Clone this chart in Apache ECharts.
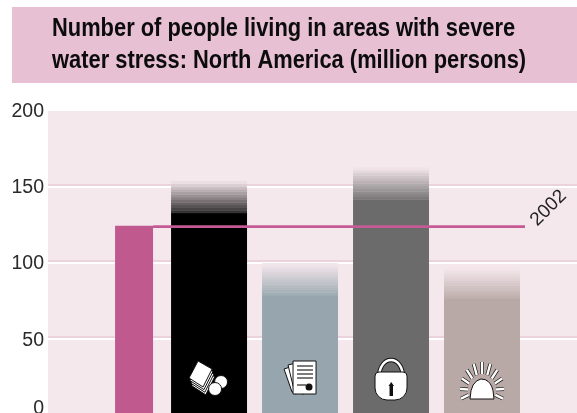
<!DOCTYPE html>
<html><head><meta charset="utf-8">
<style>html,body{margin:0;padding:0;background:#fff;overflow:hidden}#c{width:577px;height:413px}</style>
<script src="https://cdn.jsdelivr.net/npm/echarts@6/dist/echarts.min.js"></script>
</head><body><div id="c"></div>
<script>
const titleLines = ['Number of people living in areas with severe', 'water stress: North America (million persons)'];
const tickValues = [0, 50, 100, 150, 200];
const scenarios = ['2002', 'Markets First', 'Policy First', 'Security First', 'Sustainability First'];
const lowValues = [124.5, 133, 79, 142, 77];
const highValues = [124.5, 154, 100, 163, 97];
const barColors = ['#c05a8e', '#000000', '#97a6ae', '#6b6b6b', '#b8a9a6'];
const baselineLabel = '2002';
const baselineValue = 124;

const PLOT_BG = [245, 232, 237];
const STEPS = 12;
function hexRgb(h){return [1,3,5].map(i=>parseInt(h.substr(i,2),16));}
function mix(h,t){const c=hexRgb(h);return 'rgb('+c.map((v,i)=>Math.round(v+(PLOT_BG[i]-v)*t)).join(',')+')';}
function barSpan(api,i){
  const band=api.size([1,0])[0], cx=api.coord([i,0])[0];
  if(i===0) return {x:cx-3,w:band*0.4176};
  const w=band*0.835; return {x:cx-w/2,w:w};
}
function icon(i,api){
  const cx=api.coord([i,0])[0], cy=375;
  const W='#fff',K='#111';
  let ch=[];
  if(i===1){
    for(let k=3;k>=0;k--){const dx=k*0.9,dy=k*2.6;
      ch.push({type:'polygon',shape:{points:[[-11+dx,-14+dy],[3+dx,-6+dy],[-6+dx,12+dy],[-20+dx,3+dy]]},style:{fill:W,stroke:K,lineWidth:1}});}
    ch.push({type:'circle',shape:{cx:12,cy:7,r:6.5},style:{fill:W,stroke:K,lineWidth:1}});
    ch.push({type:'circle',shape:{cx:6,cy:14,r:6.5},style:{fill:W,stroke:K,lineWidth:1}});
  } else if(i===2){
    ch.push({type:'polygon',shape:{points:[[-16,-6],[-4,-10],[4,19],[-8,17]]},style:{fill:W,stroke:K,lineWidth:1}});
    ch.push({type:'polygon',shape:{points:[[-12,-10],[0,-13],[9,15],[-5,19]]},style:{fill:W,stroke:K,lineWidth:1}});
    ch.push({type:'rect',shape:{x:-7,y:-14,width:23,height:33},style:{fill:W,stroke:K,lineWidth:1}});
    [-9,-5,-1,3].forEach(y=>ch.push({type:'line',shape:{x1:-3,y1:y,x2:13,y2:y},style:{stroke:'#333',lineWidth:1.3}}));
    ch.push({type:'line',shape:{x1:-3,y1:10,x2:6,y2:10},style:{stroke:'#333',lineWidth:1.3}});
    ch.push({type:'circle',shape:{cx:9,cy:12,r:3.5},style:{fill:'#111'}});
  } else if(i===3){
    const shackle='M-12 2 C-12 -22 12 -22 12 2';
    ch.push({type:'path',shape:{pathData:shackle,x:-12,y:-15,width:24,height:18,layout:'cover'},style:{fill:'none',stroke:K,lineWidth:4.5}});
    ch.push({type:'path',shape:{pathData:shackle,x:-12,y:-15,width:24,height:18,layout:'cover'},style:{fill:'none',stroke:W,lineWidth:2.5}});
    ch.push({type:'rect',shape:{x:-16,y:-3,width:32,height:28,r:[4,4,12,12]},style:{fill:W,stroke:K,lineWidth:1}});
    ch.push({type:'rect',shape:{x:-1.5,y:11,width:3.5,height:10},style:{fill:K}});
    ch.push({type:'polygon',shape:{points:[[-2.5,11],[0.2,7],[3,11]]},style:{fill:K}});
  } else if(i===4){
    [-90,-68,-46,-24,-2,18,-112,-134,-156,-178,-198].forEach(a=>{
      const r=a*Math.PI/180,c=Math.cos(r),s=Math.sin(r);
      const p={x1:c*14,y1:15+s*16,x2:c*22,y2:15+s*28};
      ch.push({type:'line',shape:p,style:{stroke:K,lineWidth:3.8}});
      ch.push({type:'line',shape:p,style:{stroke:W,lineWidth:2.4}});
    });
    ch.push({type:'path',shape:{pathData:'M-12 24 L-11 17 A 11.5 14 0 0 1 11 17 L12 24 Z',x:-12,y:4,width:24,height:20,layout:'cover'},style:{fill:W,stroke:K,lineWidth:1}});
  }
  return {type:'group',x:cx,y:cy,children:ch};
}
function renderBar(params,api){
  const i=params.dataIndex, low=api.value(1), high=api.value(2), color=barColors[i];
  const s=barSpan(api,i), y0=api.coord([0,0])[1], yLow=api.coord([0,low])[1], yHigh=api.coord([0,high])[1];
  const ch=[{type:'rect',shape:{x:s.x,y:yLow,width:s.w,height:y0-yLow},style:{fill:color}}];
  if(high>low){
    const n=STEPS, hStep=(yLow-yHigh)/n, t0=i===1?0.22:0.12;
    for(let k=0;k<n;k++){
      const t=t0+(0.96-t0)*k/(n-1);
      ch.push({type:'rect',shape:{x:s.x,y:yLow-(k+1)*hStep,width:s.w,height:hStep+0.5},style:{fill:mix(color,t)}});
    }
  }
  if(i>0) ch.push(icon(i,api));
  return {type:'group',children:ch};
}
function renderGrid(params,api){
  const y=api.coord([0,api.value(0)])[1];
  const r=params.coordSys;
  return {type:'group',children:[
    {type:'rect',shape:{x:r.x,y:y-3,width:r.width,height:2},style:{fill:'#ecd2dd'}},
    {type:'rect',shape:{x:r.x,y:y-1,width:r.width,height:2},style:{fill:'#ffffff'}}
  ]};
}
function renderLine(params,api){
  const a=barSpan(api,0), b=barSpan(api,4), y=api.coord([0,api.value(0)])[1];
  const x1=a.x+a.w, x2=b.x+b.w+5;
  return {type:'group',children:[
    {type:'rect',shape:{x:x1,y:y-1.3,width:x2-x1,height:2.8},style:{fill:'#c45b95'}},
    {type:'text',x:x2+23.5,y:y-18.5,rotation:Math.PI/4,style:{text:baselineLabel,fill:'#222',font:'19px "Liberation Sans"',align:'center',verticalAlign:'middle'}}
  ]};
}
const labelFont={color:'#2a2a2a',fontFamily:'"Liberation Sans"',fontSize:19.5};
const chart=echarts.init(document.getElementById('c'),null,{renderer:'canvas'});
chart.setOption({
  animation:false,
  backgroundColor:'#fff',
  tooltip:{show:false},
  graphic:[
    {type:'rect',z:-10,shape:{x:12,y:7,width:565,height:76},style:{fill:'#e8c0d3'}},
    {type:'text',z:5,x:52,y:29,scaleX:0.875,style:{text:titleLines[0],fill:'#0c0c0c',font:'bold 25px "Liberation Sans"',verticalAlign:'middle'}},
    {type:'text',z:5,x:52,y:61,scaleX:0.875,style:{text:titleLines[1],fill:'#0c0c0c',font:'bold 25px "Liberation Sans"',verticalAlign:'middle'}}
  ],
  grid:{left:48,top:111,width:529,height:304,show:true,backgroundColor:'#f5e8ed',borderWidth:0,outerBoundsMode:'none'},
  xAxis:{type:'value',min:-0.77,max:5.044,show:false},
  yAxis:{type:'value',min:0,max:200,interval:50,splitLine:{show:false},axisLine:{show:false},axisTick:{show:false},
    axisLabel:{margin:4,...labelFont,
      formatter:v=>v===0?'{z|'+v+'}':v===50?'{f|'+v+'}':'{d|'+v+'}',
      rich:{z:{...labelFont,padding:[0,0,13,0]},f:{...labelFont,padding:[3,0,0,0]},d:{...labelFont,padding:[1,0,0,0]}}}},
  series:[
    {type:'custom',z:1,silent:true,clip:false,renderItem:renderGrid,data:tickValues.slice(1,4).map(v=>[v]),encode:{y:0}},
    {type:'custom',z:2,silent:true,clip:false,renderItem:renderBar,data:scenarios.map((n,i)=>[i,lowValues[i],highValues[i]]),encode:{x:0,y:[1,2]}},
    {type:'custom',z:3,silent:true,clip:false,renderItem:renderLine,data:[[baselineValue]],encode:{y:0}}
  ]
});
</script></body></html>
